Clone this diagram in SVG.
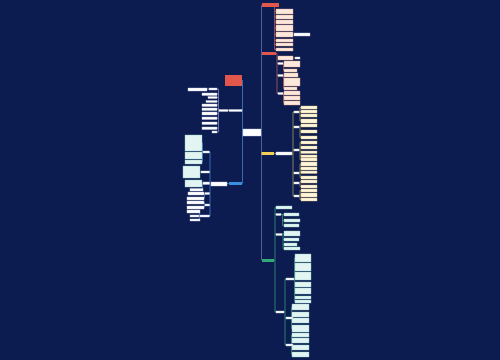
<svg xmlns="http://www.w3.org/2000/svg" width="500" height="360" viewBox="0 0 500 360">
<style>
.l{fill:none;stroke-width:0.7}
.lm{stroke:#6d7bbf}.lr{stroke:#c9645a}.ly{stroke:#bfae5c}.lg{stroke:#3aa87a}.lb{stroke:#4a8fe0}.lw{stroke:#8a96c8}
.pk{fill:#fde8dc;stroke:#e2a48e;stroke-width:0.4}
.wh{fill:#ffffff;stroke:#c0c8e0;stroke-width:0.4}
.py{fill:#fff6dc;stroke:#d8c080;stroke-width:0.4}
.cy{fill:#e2f5f3;stroke:#8ccac2;stroke-width:0.4}
.red{fill:#e2574c}.blu{fill:#3b8ee0}.yel{fill:#f2cf55}.grn{fill:#35a877}
</style>
<rect width="500" height="360" fill="#0c1b50"/>
<g id="connectors">
<path class="l lm" d="M261.5,132V5M261.5,132V260"/>
<path class="l lb" d="M243,132H242.5V80M242.5,132V183.5M242.5,110.5H242"/>
<path class="l lr" d="M274.5,7V49.5M274.5,11.5H276M274.5,17H276M274.5,22H276M274.5,28H276M274.5,34.5H276M274.5,40.5H276M274.5,44.5H276M274.5,49.5H276M293,34.5H294"/>
<path class="l lr" d="M276,53.5H277V93.5M277,58H278M277,63.5H278M277,75.5H278M277,93.5H278M293,58H295"/>
<path class="l lr" d="M283,63.5H283.5V70.5M283.5,64H284M283.5,70.5H284M283,75.5H283.5V88.5M283.5,75H284M283.5,82H284M283.5,88.5H284M283,93.5H283.5V103M283.5,93H284M283.5,98H284M283.5,103H284"/>
<path class="l ly" d="M274,153.5H276M292,153.5H293V112M293,153.5V196M293,112H294M293,127H294M293,150H294M293,173H294M293,183H294M293,196H294"/>
<path class="l ly" d="M299,112H300V107.5M300,112V121M300,107.5H301M300,111.5H301M300,115.5H301M300,121H301M299,127H300V125.5M300,127V137.5M300,125.5H301M300,131.5H301M300,137.5H301M299,150H300V142.5M300,150V159.5M300,142.5H301M300,147.5H301M300,152H301M300,156H301M300,159.5H301M299,173H300V164M300,173V177.5M300,164H301M300,168.5H301M300,172H301M300,177.5H301M299,183H300V181.5M300,183V186.5M300,181.5H301M300,186.5H301M299,196H300V190.5M300,196V199.5M300,190.5H301M300,195H301M300,199.5H301"/>
<path class="l lg" d="M274,260.5H275V207.5M275,260.5V312M275,207.5H276M275,214.5H276M275,234.5H276M275,312H276"/>
<path class="l lg" d="M281,214.5H282.5V225.5M282.5,214.5H284M282.5,220.5H284M282.5,225.5H284M282,234.5H283V248.5M283,233.5H284M283,239.5H284M283,244.5H284M283,248.5H284"/>
<path class="l lg" d="M284,312H285V279M285,312V345M285,279H286M285,318H286M285,345H286"/>
<path class="l lg" d="M294,279H294.5V258M294.5,279V301.5M294.5,258H295M294.5,267H295M294.5,276H295M294.5,284.5H295M294.5,291H295M294.5,297.5H295M294.5,301.5H295M293,318H291.5V307M291.5,318V328.5M291.5,307H292M291.5,314.5H292M291.5,320.5H292M291.5,328.5H292M293,345H291.5V335M291.5,345V354.5M291.5,335H292M291.5,340.5H292M291.5,347.5H292M291.5,354.5H292"/>
<path class="l lw" d="M229,110.5H228M219,110.5H218.5V89M218.5,110.5V132M218.5,89H217M218.5,94H217M218.5,97.5H217M218.5,101.5H217M218.5,105H217M218.5,109H217M218.5,113.5H217M218.5,118H217M218.5,123H217M218.5,128H217M218.5,132H217M209,89H207"/>
<path class="l lb" d="M229,183.5H227M211,184H210V152M210,184V216M210,152H209.5M210,172H209.5M210,183H209.5M210,193.5H209.5M210,205H209.5M210,216H209.5"/>
<path class="l lb" d="M203,152H202.5V143M202.5,152V162M202.5,143H202M202.5,155.5H202M202.5,162H202M201,172H200M203,183H202.5V189.5M202.5,183.5H202M202.5,189.5H203M205,193.5H204.5V198.5M204.5,193.5H204M204.5,198.5H204M205,205H204.5V207.5M204.5,202.5V205M204.5,202.5H204M204.5,207.5H204M200,216H199.5V211.5M199.5,216V220M199.5,211.5H200M199.5,220H200"/>
</g>
<g id="center"><rect class="wh" x="243" y="129" width="18" height="7"/></g>
<g id="n-left-red"><rect class="red" x="225" y="75" width="17" height="11"/></g>
<g id="n-left-mid"><rect class="wh" x="229" y="109.5" width="13" height="2"/><rect class="wh" x="219" y="109.5" width="9" height="2"/></g>
<g id="n-left-upper">
<rect class="wh" x="188" y="88" width="19" height="3"/><rect class="wh" x="209" y="88" width="8" height="2"/>
<rect class="wh" x="202" y="93" width="15" height="2.5"/><rect class="wh" x="208" y="96.5" width="9" height="2"/>
<rect class="wh" x="206" y="100.5" width="11" height="2"/><rect class="wh" x="202" y="104" width="15" height="2.5"/>
<rect class="wh" x="202" y="108" width="15" height="2.5"/><rect class="wh" x="202" y="112" width="15" height="3"/>
<rect class="wh" x="202" y="117" width="15" height="2.5"/><rect class="wh" x="202" y="122" width="15" height="2.5"/>
<rect class="wh" x="202" y="127" width="15" height="2.5"/><rect class="wh" x="212" y="131" width="5" height="2"/>
</g>
<g id="n-left-blue"><rect class="blu" x="229" y="182" width="13" height="3"/><rect class="wh" x="211" y="182" width="16" height="4"/></g>
<g id="n-left-lower">
<rect class="wh" x="203" y="151" width="6.5" height="2"/><rect class="wh" x="201" y="171" width="8.5" height="2"/>
<rect class="wh" x="203" y="182" width="6.5" height="2.5"/><rect class="wh" x="205" y="192.5" width="4.5" height="2"/>
<rect class="wh" x="205" y="204" width="4.5" height="2"/><rect class="wh" x="200" y="215" width="9.5" height="2"/>
<rect class="cy" x="185" y="135" width="17" height="16"/><rect class="cy" x="185" y="152" width="17" height="7"/>
<rect class="cy" x="185" y="160" width="17" height="4"/><rect class="cy" x="183" y="166" width="17" height="12"/>
<rect class="cy" x="185" y="180" width="17" height="7"/><rect class="wh" x="190" y="188.5" width="13" height="2.5"/>
<rect class="wh" x="188" y="192" width="16" height="3"/><rect class="wh" x="187" y="197" width="17" height="3"/>
<rect class="wh" x="187" y="201" width="17" height="3"/><rect class="wh" x="187" y="206" width="17" height="3"/>
<rect class="wh" x="187" y="210" width="13" height="3"/><rect class="wh" x="190" y="215" width="9" height="2"/>
<rect class="wh" x="190" y="219" width="10" height="2"/>
</g>
<g id="n-right-red1">
<rect class="red" x="262" y="3" width="17" height="4"/>
<rect class="pk" x="276" y="9" width="17" height="5"/><rect class="pk" x="276" y="15" width="17" height="4"/>
<rect class="pk" x="276" y="20" width="17" height="4"/><rect class="pk" x="276" y="25" width="17" height="6"/>
<rect class="pk" x="276" y="32" width="17" height="5"/><rect class="pk" x="276" y="39" width="17" height="3"/>
<rect class="pk" x="276" y="43" width="17" height="3"/><rect class="pk" x="276" y="48" width="17" height="3"/>
<rect class="wh" x="294" y="33" width="16" height="3"/>
</g>
<g id="n-right-red2">
<rect class="red" x="262" y="52" width="14" height="3"/>
<rect class="pk" x="278" y="56" width="15" height="4"/><rect class="wh" x="295" y="57" width="5" height="2"/>
<rect class="wh" x="278" y="62.5" width="5" height="2"/><rect class="wh" x="278" y="74.5" width="5" height="2"/><rect class="wh" x="278" y="92.5" width="5" height="2"/>
<rect class="pk" x="284" y="61" width="16" height="6"/><rect class="pk" x="284" y="69" width="13" height="3"/>
<rect class="pk" x="284" y="73" width="14" height="4"/><rect class="pk" x="284" y="78" width="16" height="8"/>
<rect class="pk" x="284" y="87" width="13" height="3"/><rect class="pk" x="284" y="91" width="16" height="4"/>
<rect class="pk" x="284" y="96" width="16" height="4"/><rect class="pk" x="284" y="101" width="16" height="4"/>
</g>
<g id="n-right-yellow">
<rect class="yel" x="261.5" y="152" width="12.5" height="3"/><rect class="wh" x="276" y="152" width="16" height="3"/>
<rect class="wh" x="294" y="111" width="5" height="2"/><rect class="wh" x="294" y="126" width="5" height="2"/>
<rect class="wh" x="294" y="149" width="5" height="2"/><rect class="wh" x="294" y="172" width="5" height="2"/>
<rect class="wh" x="294" y="182" width="5" height="2"/><rect class="wh" x="294" y="195" width="5" height="2"/>
<rect class="py" x="301" y="106" width="16" height="3"/><rect class="py" x="301" y="110" width="16" height="3"/>
<rect class="py" x="301" y="114" width="16" height="3"/><rect class="py" x="301" y="119" width="16" height="4"/>
<rect class="py" x="301" y="124" width="16" height="3"/><rect class="py" x="301" y="130" width="16" height="3"/>
<rect class="py" x="301" y="136" width="16" height="3"/><rect class="py" x="301" y="141" width="16" height="3"/>
<rect class="py" x="301" y="146" width="16" height="3"/><rect class="py" x="301" y="151" width="16" height="2.5"/>
<rect class="py" x="301" y="155" width="16" height="2.5"/><rect class="py" x="301" y="158" width="16" height="3"/>
<rect class="py" x="301" y="162" width="16" height="4"/><rect class="py" x="301" y="167" width="16" height="3"/>
<rect class="py" x="301" y="171" width="16" height="2.5"/><rect class="py" x="301" y="176" width="16" height="3"/>
<rect class="py" x="301" y="180" width="16" height="3"/><rect class="py" x="301" y="185" width="16" height="3"/>
<rect class="py" x="301" y="189" width="16" height="3"/><rect class="py" x="301" y="193" width="16" height="4"/>
<rect class="py" x="301" y="198" width="16" height="3"/>
</g>
<g id="n-right-green">
<rect class="grn" x="262" y="259" width="12" height="3"/>
<rect class="cy" x="276" y="206" width="16" height="3"/>
<rect class="wh" x="276" y="213.5" width="5" height="2"/><rect class="wh" x="276" y="233.5" width="6" height="2"/><rect class="wh" x="276" y="311" width="8" height="2"/>
<rect class="cy" x="284" y="213" width="15" height="3"/><rect class="cy" x="284" y="219" width="16" height="3"/>
<rect class="cy" x="284" y="224" width="15" height="3"/><rect class="cy" x="284" y="231" width="16" height="5"/>
<rect class="cy" x="284" y="238" width="15" height="3"/><rect class="cy" x="284" y="243" width="13" height="3"/>
<rect class="cy" x="284" y="247" width="16" height="3"/>
<rect class="wh" x="286" y="278" width="8" height="2"/><rect class="wh" x="286" y="317" width="7" height="2"/><rect class="wh" x="286" y="344" width="7" height="2"/>
<rect class="cy" x="295" y="254" width="16" height="8"/><rect class="cy" x="295" y="263" width="16" height="8"/>
<rect class="cy" x="295" y="272" width="16" height="8"/><rect class="cy" x="295" y="282" width="16" height="5"/>
<rect class="cy" x="295" y="288" width="16" height="6"/><rect class="cy" x="295" y="296" width="16" height="3"/>
<rect class="cy" x="295" y="300" width="16" height="3"/>
<rect class="cy" x="292" y="304" width="17" height="6"/><rect class="cy" x="292" y="312" width="17" height="5"/>
<rect class="cy" x="292" y="318" width="17" height="5"/><rect class="cy" x="292" y="325" width="17" height="7"/>
<rect class="cy" x="292" y="333" width="17" height="4"/><rect class="cy" x="292" y="338" width="17" height="5"/>
<rect class="cy" x="292" y="345" width="17" height="5"/><rect class="cy" x="292" y="352" width="17" height="5"/>
</g>
</svg>
